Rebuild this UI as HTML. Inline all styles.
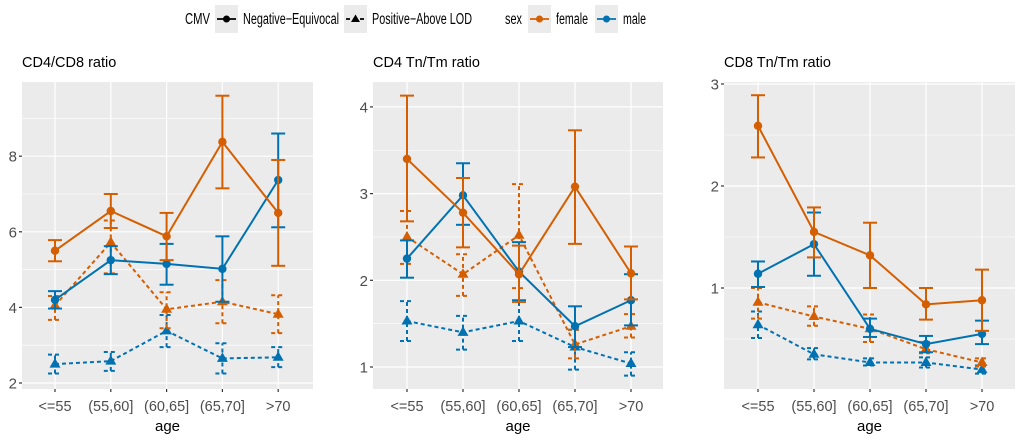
<!DOCTYPE html>
<html><head><meta charset="utf-8"><style>
body{margin:0;background:#fff;font-family:"Liberation Sans",sans-serif}
svg text{font-family:"Liberation Sans",sans-serif}
</style></head><body>
<svg id="chart" width="1020" height="437" xmlns="http://www.w3.org/2000/svg">
<g id="legend">
 <text x="185" y="24" font-size="15.5" textLength="25" lengthAdjust="spacingAndGlyphs" fill="#000">CMV</text>
 <rect x="215" y="5" width="23" height="28" fill="#ebebeb"/>
 <line x1="217" y1="19" x2="236" y2="19" stroke="#000" stroke-width="1.8"/>
 <circle cx="226.5" cy="19" r="3.5" fill="#000"/>
 <text x="243" y="24" font-size="15.5" textLength="96" lengthAdjust="spacingAndGlyphs">Negative−Equivocal</text>
 <rect x="344" y="5" width="23" height="28" fill="#ebebeb"/>
 <line x1="346" y1="19" x2="365" y2="19" stroke="#000" stroke-width="1.8" stroke-dasharray="4,3"/>
 <path d="M355.5,14.5 L360,22 L351,22 Z" fill="#000"/>
 <text x="372" y="24" font-size="15.5" textLength="100" lengthAdjust="spacingAndGlyphs">Positive−Above LOD</text>
 <text x="505" y="24" font-size="15.5" textLength="17" lengthAdjust="spacingAndGlyphs">sex</text>
 <rect x="528" y="5" width="23" height="28" fill="#ebebeb"/>
 <line x1="530" y1="19" x2="549" y2="19" stroke="#D55E00" stroke-width="1.8"/>
 <circle cx="539.5" cy="19" r="3.5" fill="#D55E00"/>
 <text x="556" y="24" font-size="15.5" textLength="32" lengthAdjust="spacingAndGlyphs">female</text>
 <rect x="595" y="5" width="23" height="28" fill="#ebebeb"/>
 <line x1="597" y1="19" x2="616" y2="19" stroke="#0072B2" stroke-width="1.8"/>
 <circle cx="606.5" cy="19" r="3.5" fill="#0072B2"/>
 <text x="623" y="24" font-size="15.5" textLength="23" lengthAdjust="spacingAndGlyphs">male</text>
</g>
</svg>
<script>
const categories = ["<=55","(55,60]","(60,65]","(65,70]",">70"];
// Panel 1: CD4/CD8 ratio
const p1FemaleNeg = [5.5,6.55,5.88,8.38,6.5];
const p1FemaleNegLo = [5.22,6.1,5.25,7.15,5.1];
const p1FemaleNegHi = [5.78,7.0,6.5,9.6,7.9];
const p1MaleNeg = [4.2,5.25,5.15,5.02,7.37];
const p1MaleNegLo = [3.97,4.88,4.6,4.15,6.12];
const p1MaleNegHi = [4.43,5.62,5.68,5.88,8.6];
const p1FemalePos = [4.05,5.72,3.95,4.15,3.82];
const p1FemalePosLo = [3.67,4.9,3.45,3.58,3.32];
const p1FemalePosHi = [4.3,6.3,4.4,4.72,4.32];
const p1MalePos = [2.5,2.58,3.38,2.65,2.68];
const p1MalePosLo = [2.25,2.32,2.95,2.25,2.42];
const p1MalePosHi = [2.75,2.82,3.8,3.05,2.95];
const p1Ticks = [2,4,6,8];
const p1Minor = [3,5,7,9];
// Panel 2: CD4 Tn/Tm ratio
const p2FemaleNeg = [3.4,2.78,2.07,3.08,2.08];
const p2FemaleNegLo = [2.68,2.38,1.75,2.42,1.78];
const p2FemaleNegHi = [4.13,3.18,2.4,3.73,2.39];
const p2MaleNeg = [2.25,2.98,2.1,1.47,1.77];
const p2MaleNegLo = [2.03,2.64,1.77,1.23,1.48];
const p2MaleNegHi = [2.46,3.35,2.44,1.7,2.07];
const p2FemalePos = [2.5,2.07,2.52,1.26,1.47];
const p2FemalePosLo = [2.19,1.82,1.91,1.1,1.34];
const p2FemalePosHi = [2.8,2.3,3.11,1.43,1.61];
const p2MalePos = [1.53,1.4,1.53,1.23,1.04];
const p2MalePosLo = [1.3,1.2,1.3,0.97,0.9];
const p2MalePosHi = [1.76,1.59,1.76,1.43,1.17];
const p2Ticks = [1,2,3,4];
const p2Minor = [1.5,2.5,3.5];
// Panel 3: CD8 Tn/Tm ratio
const p3FemaleNeg = [2.59,1.55,1.32,0.84,0.88];
const p3FemaleNegLo = [2.28,1.3,1.0,0.69,0.58];
const p3FemaleNegHi = [2.89,1.79,1.64,1.0,1.18];
const p3MaleNeg = [1.14,1.43,0.6,0.45,0.55];
const p3MaleNegLo = [1.01,1.12,0.52,0.37,0.45];
const p3MaleNegHi = [1.26,1.74,0.7,0.53,0.68];
const p3FemalePos = [0.86,0.72,0.6,0.4,0.27];
const p3FemalePosLo = [0.7,0.63,0.47,0.36,0.23];
const p3FemalePosHi = [1.0,0.82,0.74,0.47,0.31];
const p3MalePos = [0.64,0.35,0.27,0.27,0.2];
const p3MalePosLo = [0.51,0.3,0.24,0.22,0.16];
const p3MalePosHi = [0.77,0.41,0.31,0.32,0.24];
const p3Ticks = [1,2,3];
const p3Minor = [0.5,1.5,2.5];

const NS="http://www.w3.org/2000/svg";
const svg=document.getElementById('chart');
function mk(tag,attrs,parent){const e=document.createElementNS(NS,tag);for(const k in attrs)e.setAttribute(k,attrs[k]);(parent||svg).appendChild(e);return e;}
const ORANGE="#D55E00", BLUE="#0072B2";

function panel(cfg){
  const g=mk('g',{});
  
  
  const x0=cfg.x0,x1=cfg.x1,top=82,bot=389;
  const y=v=>cfg.yRef-(v-cfg.vRef)*cfg.ppu;
  const x=i=>cfg.cx0+i*cfg.step;
  const bg=mk('rect',{x:x0,y:top,width:x1-x0,height:bot-top,fill:'#ebebeb'},g);
  
  
  cfg.minor.forEach(v=>{mk('line',{x1:x0,x2:x1,y1:y(v),y2:y(v),stroke:'#fff','stroke-width':0.6},g);});
  cfg.ticks.forEach(v=>{mk('line',{x1:x0,x2:x1,y1:y(v),y2:y(v),stroke:'#fff','stroke-width':1.2},g);
    mk('line',{x1:x0-3,x2:x0,y1:y(v),y2:y(v),stroke:'#333','stroke-width':1.2},g);
    const t=mk('text',{x:x0-5,y:y(v)+5.5,'text-anchor':'end','font-size':15,fill:'#4d4d4d'},g);t.textContent=v;
    
    
  });
  categories.forEach((c,i)=>{mk('line',{x1:x(i),x2:x(i),y1:top,y2:bot,stroke:'#fff','stroke-width':1.2},g);
    mk('line',{x1:x(i),x2:x(i),y1:bot,y2:bot+3,stroke:'#333','stroke-width':1.2},g);
    const t=mk('text',{x:x(i),y:bot+22,'text-anchor':'middle','font-size':14.5,fill:'#4d4d4d'},g);t.textContent=c;
    
    
  });
  const tt=mk('text',{x:x0,y:67,'font-size':14.5,fill:'#000'},g);tt.textContent=cfg.title;
  
  
  const ax=mk('text',{x:(x0+x1)/2,y:431,'text-anchor':'middle','font-size':15,fill:'#000'},g);ax.textContent='age';
  
  
  cfg.series.forEach(s=>{
    const dash=s.pos?'4,3':'none';
    const sg=mk('g',{},g);
    
    
    s.lo.forEach((lo,i)=>{const hi=s.hi[i];
      mk('line',{x1:x(i),x2:x(i),y1:y(lo),y2:y(hi),stroke:s.col,'stroke-width':2,'stroke-dasharray':dash},sg);
      mk('line',{x1:x(i)-7,x2:x(i)+7,y1:y(lo),y2:y(lo),stroke:s.col,'stroke-width':2,'stroke-dasharray':dash},sg);
      mk('line',{x1:x(i)-7,x2:x(i)+7,y1:y(hi),y2:y(hi),stroke:s.col,'stroke-width':2,'stroke-dasharray':dash},sg);
    });
    mk('polyline',{points:s.m.map((v,i)=>x(i)+','+y(v)).join(' '),fill:'none',stroke:s.col,'stroke-width':2,'stroke-dasharray':dash},sg);
    s.m.forEach((v,i)=>{
      let p;
      if(s.pos){const cx=x(i),cy=y(v);p=mk('path',{d:`M${cx},${cy-6} L${cx+5.5},${cy+3.5} L${cx-5.5},${cy+3.5} Z`,fill:s.col},sg);}
      else p=mk('circle',{cx:x(i),cy:y(v),r:4.2,fill:s.col},sg);
      
      
    });
  });
}
panel({name:'panel-cd4-cd8',title:'CD4/CD8 ratio',x0:22,x1:313,cx0:55,step:55.8,yRef:383,vRef:2,ppu:37.8,ticks:p1Ticks,minor:p1Minor,
 series:[
  {name:'male-positive',col:BLUE,pos:true,m:p1MalePos,lo:p1MalePosLo,hi:p1MalePosHi},
  {name:'female-positive',col:ORANGE,pos:true,m:p1FemalePos,lo:p1FemalePosLo,hi:p1FemalePosHi},
  {name:'male-negative',col:BLUE,pos:false,m:p1MaleNeg,lo:p1MaleNegLo,hi:p1MaleNegHi},
  {name:'female-negative',col:ORANGE,pos:false,m:p1FemaleNeg,lo:p1FemaleNegLo,hi:p1FemaleNegHi}]});
panel({name:'panel-cd4-tn-tm',title:'CD4 Tn/Tm ratio',x0:373,x1:663,cx0:407,step:56,yRef:367,vRef:1,ppu:86.7,ticks:p2Ticks,minor:p2Minor,
 series:[
  {name:'male-positive',col:BLUE,pos:true,m:p2MalePos,lo:p2MalePosLo,hi:p2MalePosHi},
  {name:'female-positive',col:ORANGE,pos:true,m:p2FemalePos,lo:p2FemalePosLo,hi:p2FemalePosHi},
  {name:'male-negative',col:BLUE,pos:false,m:p2MaleNeg,lo:p2MaleNegLo,hi:p2MaleNegHi},
  {name:'female-negative',col:ORANGE,pos:false,m:p2FemaleNeg,lo:p2FemaleNegLo,hi:p2FemaleNegHi}]});
panel({name:'panel-cd8-tn-tm',title:'CD8 Tn/Tm ratio',x0:724,x1:1015,cx0:758,step:56,yRef:288,vRef:1,ppu:102,ticks:p3Ticks,minor:p3Minor,
 series:[
  {name:'male-positive',col:BLUE,pos:true,m:p3MalePos,lo:p3MalePosLo,hi:p3MalePosHi},
  {name:'female-positive',col:ORANGE,pos:true,m:p3FemalePos,lo:p3FemalePosLo,hi:p3FemalePosHi},
  {name:'male-negative',col:BLUE,pos:false,m:p3MaleNeg,lo:p3MaleNegLo,hi:p3MaleNegHi},
  {name:'female-negative',col:ORANGE,pos:false,m:p3FemaleNeg,lo:p3FemaleNegLo,hi:p3FemaleNegHi}]});
</script>
</body></html>
